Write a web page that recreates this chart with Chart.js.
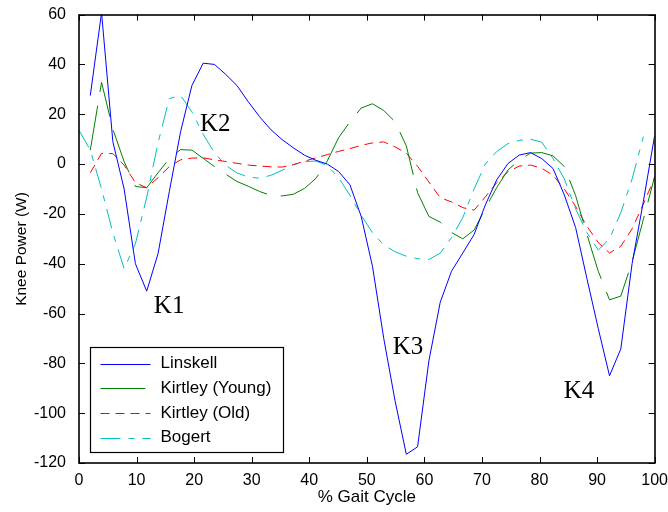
<!DOCTYPE html>
<html>
<head>
<meta charset="utf-8">
<script src="https://cdn.jsdelivr.net/npm/chart.js@4/dist/chart.umd.min.js"></script>
<style>
  html, body { margin: 0; padding: 0; background: #ffffff; }
  #wrap { width: 668px; height: 512px; }
</style>
</head>
<body>
<div id="wrap"><canvas id="kneeChart" width="668" height="512"></canvas></div>
<script>
// Gait cycle samples (% of stride)
const gaitPct = [0, 1.96, 3.92, 5.88, 7.84, 9.8, 11.76, 13.73, 15.69, 17.65, 19.61, 21.57, 23.53,
  25.49, 27.45, 29.41, 31.37, 33.33, 35.29, 37.25, 39.22, 41.18, 43.14, 45.1, 47.06, 49.02,
  50.98, 52.94, 54.9, 56.86, 58.82, 60.78, 62.75, 64.71, 66.67, 68.63, 70.59, 72.55, 74.51,
  76.47, 78.43, 80.39, 82.35, 84.31, 86.27, 88.24, 90.2, 92.16, 94.12, 96.08, 98.04, 100];

// Knee power (W) per source
const linskell = [null, 27.5, 60.8, 9, -10, -40, -51, -36, -11, 13, 31.5, 40.5, 40, 36, 31.5, 25,
  19, 13.8, 9.8, 6.5, 3.5, 1.5, 0, -3, -8.3, -21, -41, -70, -95, -116.5, -113.5, -79, -55.5,
  -43, -35.7, -28.3, -16.4, -6.4, 0.2, 3.6, 4.6, 2.2, -1.8, -12.4, -25.5, -46, -66, -85, -74.2,
  -40, -15, 11.5];
const kirtleyYoung = [null, 5.6, 32.8, 14, 1, -9, -9.5, -3.5, 2.2, 5.8, 5.6, 2.3, -1, -4.1, -7,
  -8.9, -11, -12.6, -12.8, -12.1, -9.7, -5.7, 1.3, 10.6, 16.9, 22.5, 24.2, 21.5, 17, 7.3, -11.5,
  -21, -23.3, -27.5, -30, -26.5, -17.8, -9.5, -2.4, 1.5, 4.4, 4.6, 3.3, -1, -12.7, -28.3, -43,
  -54.5, -53, -39.2, -22.2, -5];
const kirtleyOld = [null, -3.5, 4.3, 4.2, -0.4, -7.5, -9.5, -5.5, -1, 1.7, 2.4, 2.5, 1.7, 1, 0.3,
  -0.4, -0.8, -1.1, -1.2, -0.2, 1.2, 2.5, 3.8, 5.1, 6.2, 7.5, 8.5, 8.9, 6.9, 4.4, -0.9, -7.2,
  -13.5, -15.2, -17.5, -18.5, -13.2, -7.5, -3.1, -0.8, -0.4, -1.7, -4.5, -10, -17, -25, -31.5,
  -35.7, -33, -26, -16, -5.5];
const bogert = [13.6, 5.6, -10, -27.6, -42, -32, -13.3, 8.5, 26.3, 27.5, 21, 12, 4.5, -0.5, -3.6,
  -5.2, -5.7, -4.5, -2.5, -0.3, 1, 1.2, -0.6, -5.5, -12.5, -20.6, -27.5, -32.5, -35.2, -37, -38,
  -38.3, -35.8, -29.5, -21.5, -10, 0, 5, 8.2, 9.5, 10, 8.8, 2.2, -6, -18, -27.5, -34.5, -30,
  -19.5, -6, 11, null];

// Axis ticks
const xTicks = [0, 10, 20, 30, 40, 50, 60, 70, 80, 90, 100];
const yTicks = [-120, -100, -80, -60, -40, -20, 0, 20, 40, 60];

// Phase labels, anchored in data units (left edge, baseline)
const phaseNames = ['K1', 'K2', 'K3', 'K4'];
const phaseX = [13.0, 21.0, 54.5, 84.2];
const phaseY = [-59.6, 13.3, -76.1, -94.1];

const toPoints = (vals) => gaitPct.map((x, i) => ({ x: x, y: vals[i] }));

const series = [
  { label: 'Linskell',        values: linskell,     color: '#0000ff', dash: [] },
  { label: 'Kirtley (Young)', values: kirtleyYoung, color: '#008000', dash: [45, 14] },
  { label: 'Kirtley (Old)',   values: kirtleyOld,   color: '#ff0000', dash: [9, 6] },
  { label: 'Bogert',          values: bogert,       color: '#00bfbf', dash: [20, 8, 6, 8] }
];

const sansFont = "'Liberation Sans', Arial, sans-serif";

// Box, inward tick marks, y-axis title, phase labels and the legend panel
const axesDecor = {
  id: 'axesDecor',
  afterDatasetsDraw(chart) {
    const ctx = chart.ctx;
    const area = chart.chartArea;
    const xs = chart.scales.x, ys = chart.scales.y;
    const tickLen = 6;

    ctx.save();
    ctx.strokeStyle = '#000000';
    ctx.lineWidth = 1;
    ctx.setLineDash([]);
    ctx.beginPath();
    xTicks.forEach(v => {
      const px = Math.round(xs.getPixelForValue(v)) + 0.5;
      ctx.moveTo(px, area.bottom); ctx.lineTo(px, area.bottom - tickLen);
      ctx.moveTo(px, area.top); ctx.lineTo(px, area.top + tickLen);
    });
    yTicks.forEach(v => {
      const py = Math.round(ys.getPixelForValue(v)) + 0.5;
      ctx.moveTo(area.left, py); ctx.lineTo(area.left + tickLen, py);
      ctx.moveTo(area.right, py); ctx.lineTo(area.right - tickLen, py);
    });
    ctx.stroke();

    ctx.lineWidth = 1.6;
    ctx.strokeRect(Math.round(area.left), Math.round(area.top),
      Math.round(area.right - area.left), Math.round(area.bottom - area.top));

    // y-axis title
    ctx.fillStyle = '#000000';
    ctx.font = '15.5px ' + sansFont;
    ctx.textAlign = 'center';
    ctx.textBaseline = 'middle';
    ctx.translate(22, 249);
    ctx.rotate(-Math.PI / 2);
    ctx.fillText('Knee Power (W)', 0, 0);
    ctx.setTransform(1, 0, 0, 1, 0, 0);

    // phase labels
    ctx.font = "25px 'Liberation Serif', 'Times New Roman', serif";
    ctx.textAlign = 'left';
    ctx.textBaseline = 'alphabetic';
    phaseNames.forEach((t, i) => {
      ctx.fillText(t, xs.getPixelForValue(phaseX[i]), ys.getPixelForValue(phaseY[i]));
    });

    // legend panel
    const bx = Math.round(area.left) + 11.5, by = 347.5, bw = 193, bh = 105;
    ctx.fillStyle = '#ffffff';
    ctx.fillRect(bx, by, bw, bh);
    ctx.strokeStyle = '#000000';
    ctx.lineWidth = 1.2;
    ctx.strokeRect(bx, by, bw, bh);
    ctx.font = '17px ' + sansFont;
    ctx.textBaseline = 'middle';
    series.forEach((s, i) => {
      const ly = by + 16 + i * 24.7;
      ctx.strokeStyle = s.color;
      ctx.lineWidth = 1;
      ctx.setLineDash(s.dash);
      ctx.beginPath();
      ctx.moveTo(bx + 10, Math.round(ly) + 0.5);
      ctx.lineTo(bx + 60, Math.round(ly) + 0.5);
      ctx.stroke();
      ctx.setLineDash([]);
      ctx.fillStyle = '#000000';
      ctx.fillText(s.label, bx + 70, ly);
    });
    ctx.restore();
  }
};

new Chart(document.getElementById('kneeChart'), {
  type: 'line',
  data: {
    datasets: series.map(s => ({
      label: s.label,
      data: toPoints(s.values),
      borderColor: s.color,
      backgroundColor: s.color,
      borderWidth: 1,
      borderDash: s.dash,
      pointRadius: 0,
      tension: 0,
      fill: false,
      spanGaps: false
    }))
  },
  options: {
    responsive: false,
    animation: false,
    devicePixelRatio: 1,
    layout: { padding: { left: 0, top: 12, right: 13, bottom: 0 } },
    plugins: { legend: { display: false }, tooltip: { enabled: false } },
    scales: {
      x: {
        type: 'linear',
        min: 0, max: 100,
        afterFit: (s) => { s.height = 49; },
        afterBuildTicks: (s) => { s.ticks = xTicks.map(v => ({ value: v })); },
        grid: { display: false },
        border: { display: false },
        ticks: { color: '#000000', font: { family: sansFont, size: 16 }, padding: 0, maxRotation: 0, autoSkip: false },
        title: { display: true, text: '% Gait Cycle', color: '#000000',
                 font: { family: sansFont, size: 17 }, padding: { top: 0, bottom: 4 } }
      },
      y: {
        type: 'linear',
        min: -120, max: 60,
        afterFit: (s) => { s.width = 79; },
        afterBuildTicks: (s) => { s.ticks = yTicks.map(v => ({ value: v })); },
        grid: { display: false },
        border: { display: false },
        ticks: { color: '#000000', font: { family: sansFont, size: 16 }, padding: 5, autoSkip: false },
        title: { display: false }
      }
    }
  },
  plugins: [axesDecor]
});
</script>
</body>
</html>
